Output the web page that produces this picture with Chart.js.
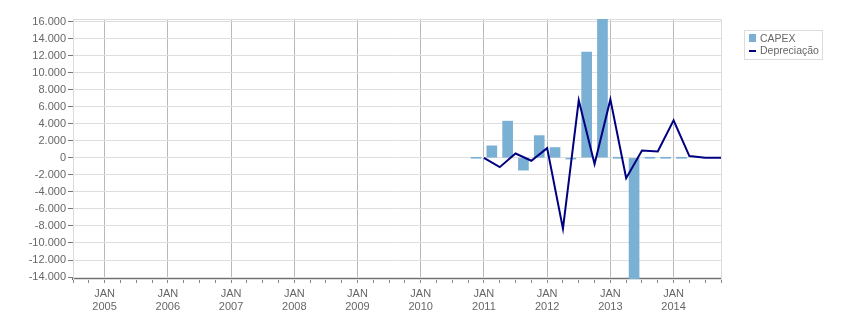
<!DOCTYPE html>
<html>
<head>
<meta charset="utf-8">
<script src="https://cdn.jsdelivr.net/npm/chart.js@4"></script>
<style>
  body { margin: 0; background: #fff; }
</style>
</head>
<body>
<canvas id="myChart" width="851" height="313"></canvas>
<script>
// Periodos trimestrais (ano-trimestre)
const firstYear = 2005;
const yearLabels = ["2005", "2006", "2007", "2008", "2009", "2010", "2011", "2012", "2013", "2014"];

const capexPeriods = ["2010-4", "2011-1", "2011-2", "2011-3", "2011-4", "2012-1", "2012-2",
                      "2012-3", "2012-4", "2013-1", "2013-2", "2013-3", "2013-4", "2014-1"];
const capexValues = [0, 1400, 4300, -1450, 2600, 1200, -150, 12400, 16500, 0, -14500, 0, 0, 0];

const deprecPeriods = ["2011-1", "2011-2", "2011-3", "2011-4", "2012-1", "2012-2", "2012-3", "2012-4",
                       "2013-1", "2013-2", "2013-3", "2013-4", "2014-1", "2014-2", "2014-3", "2014-4"];
const deprecValues = [0, -1100, 500, -350, 1130, -8330, 6740, -740, 6850, -2400, 850, 740, 4400, 200, 0, 0];

const yTicks = [16000, 14000, 12000, 10000, 8000, 6000, 4000, 2000, 0,
                -2000, -4000, -6000, -8000, -10000, -12000, -14000];

function quarterIndex(p) {
  const parts = p.split("-");
  return (parseInt(parts[0]) - firstYear) * 4 + (parseInt(parts[1]) - 1);
}

function formatNumber(v) {
  const s = Math.abs(v).toString().replace(/\B(?=(\d{3})+(?!\d))/g, ".");
  return (v < 0 ? "-" : "") + s;
}

Chart.defaults.font.family = "'Liberation Sans', Arial, sans-serif";
Chart.defaults.font.size = 11;
Chart.defaults.color = "#666";

// moldura da area do grafico
const framePlugin = {
  id: "frame",
  beforeDatasetsDraw(chart) {
    const a = chart.chartArea;
    const c = chart.ctx;
    c.save();
    c.strokeStyle = "#dcdcdc";
    c.lineWidth = 1;
    c.strokeRect(a.left + 0.5, a.top + 0.5, a.right - a.left, a.bottom - a.top);
    c.restore();
  }
};

// legenda com borda
const legendPlugin = {
  id: "boxLegend",
  afterDraw(chart) {
    const c = chart.ctx;
    const x = chart.chartArea.right + 23;
    const y = 30;
    c.save();
    c.fillStyle = "#fff";
    c.fillRect(x, y, 78, 29);
    c.strokeStyle = "#dcdcdc";
    c.lineWidth = 1;
    c.strokeRect(x + 0.5, y + 0.5, 78, 29);
    c.font = "10.5px 'Liberation Sans', Arial, sans-serif";
    c.textBaseline = "middle";
    const ds = chart.data.datasets;
    c.fillStyle = ds[0].backgroundColor;
    c.fillRect(x + 5, y + 4, 7, 8);
    c.fillStyle = "#666";
    c.fillText(ds[0].label, x + 16, y + 9);
    c.strokeStyle = ds[1].borderColor;
    c.lineWidth = 2;
    c.beginPath();
    c.moveTo(x + 5, y + 21);
    c.lineTo(x + 12, y + 21);
    c.stroke();
    c.fillStyle = "#666";
    c.fillText(ds[1].label, x + 16, y + 21);
    c.restore();
  }
};

const ctx = document.getElementById("myChart").getContext("2d");
const myChart = new Chart(ctx, {
  type: "bar",
  data: {
    datasets: [
      {
        type: "bar",
        label: "CAPEX",
        data: capexPeriods.map((p, i) => ({ x: quarterIndex(p) + 0.5, y: capexValues[i] })),
        backgroundColor: "#7ab0d4",
        barThickness: 10,
        minBarLength: 1,
        order: 2
      },
      {
        type: "line",
        label: "Depreciação",
        data: deprecPeriods.map((p, i) => ({ x: quarterIndex(p), y: deprecValues[i] })),
        borderColor: "#000080",
        borderWidth: 2,
        pointRadius: 0,
        tension: 0,
        fill: false,
        order: 1
      }
    ]
  },
  options: {
    responsive: false,
    animation: false,
    layout: { padding: { top: 19, right: 130, left: 0, bottom: 0 } },
    plugins: {
      legend: { display: false },
      tooltip: { enabled: false }
    },
    scales: {
      x: {
        type: "linear",
        min: -2,
        max: 39,
        offset: false,
        afterFit: (s) => { s.height = 34; },
        border: { color: "#707070", width: 2 },
        grid: {
          offset: false,
          color: (c) => (c.tick && c.tick.value % 4 === 0 ? "#b8b8b8" : "rgba(0,0,0,0)"),
          tickColor: "#888",
          tickLength: 4
        },
        ticks: {
          stepSize: 1,
          autoSkip: false,
          maxRotation: 0,
          padding: 4,
          color: "#666",
          callback: (v) => (v % 4 === 0 && v >= 0 ? ["JAN", yearLabels[v / 4]] : "")
        }
      },
      y: {
        min: -14230,
        max: 16290,
        afterFit: (s) => { s.width = 73; },
        afterBuildTicks: (s) => { s.ticks = yTicks.map((v) => ({ value: v })); },
        border: { color: "#777", width: 1 },
        grid: {
          color: "#dedede",
          tickColor: "#777",
          tickLength: 5
        },
        ticks: {
          padding: 2,
          color: "#666",
          callback: (v) => formatNumber(v)
        }
      }
    }
  },
  plugins: [framePlugin, legendPlugin]
});
</script>
</body>
</html>
